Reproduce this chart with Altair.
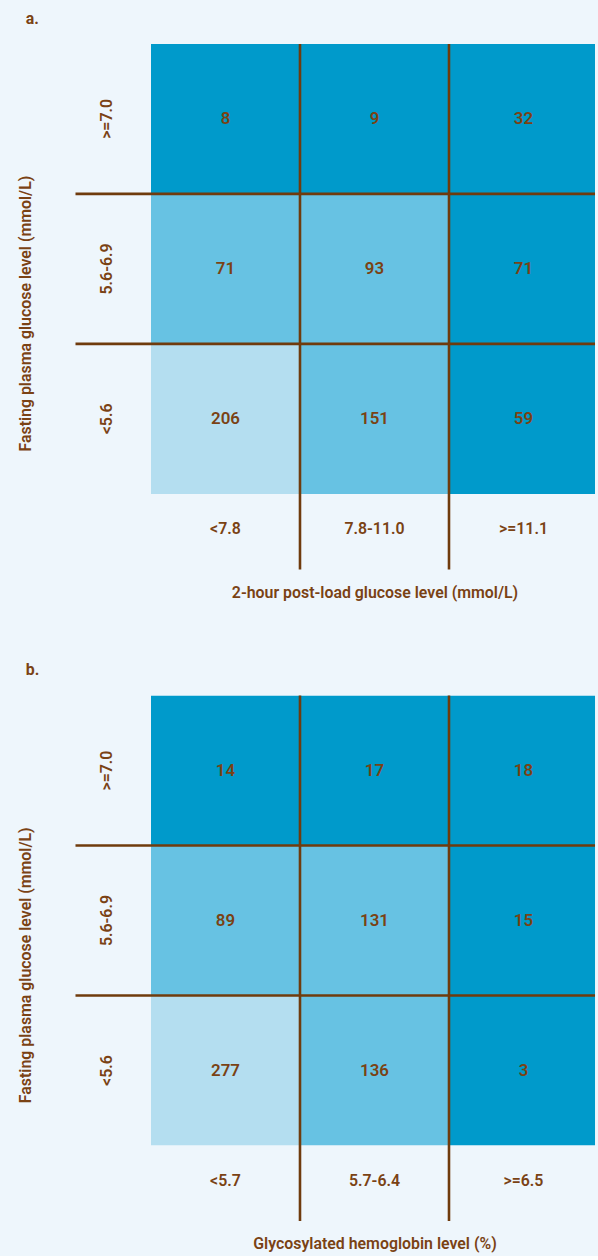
import altair as alt
import pandas as pd

# Fasting plasma glucose categories, listed top row first
fpg_levels = [">=7.0", "5.6-6.9", "<5.6"]

# Panel a: 2-hour post-load glucose (OGTT) categories and counts
ogtt_levels = ["<7.8", "7.8-11.0", ">=11.1"]
ogtt_counts = [
    [8, 9, 32],
    [71, 93, 71],
    [206, 151, 59],
]

# Panel b: HbA1c categories and counts
hba1c_levels = ["<5.7", "5.7-6.4", ">=6.5"]
hba1c_counts = [
    [14, 17, 18],
    [89, 131, 15],
    [277, 136, 3],
]

status_names = ["normal", "intermediate", "diabetes"]

BG = "#eef6fc"
TXT = "#7a4214"
LINE = "#6f3b0d"
FONT = "Roboto"
WEIGHT = 600
CELL_COLORS = ["#b4def0", "#67c2e3", "#009acb"]

W = 447          # plot width used for layout
W_SCALE = 450    # three 150 px columns; the last one runs off the page edge
H = 453


def cell_table(cols, counts):
    rows = []
    for i, fpg in enumerate(fpg_levels):
        fpg_rank = len(fpg_levels) - 1 - i
        for j, test in enumerate(cols):
            rows.append({
                "fpg": fpg,
                "test": test,
                "count": counts[i][j],
                "status": status_names[max(fpg_rank, j)],
            })
    return pd.DataFrame(rows)


def panel(tag, cols, counts, x_title):
    cells = cell_table(cols, counts)

    xs = alt.Scale(domain=cols, range=[0, W_SCALE], paddingInner=0, paddingOuter=0)
    ys = alt.Scale(domain=fpg_levels, paddingInner=0, paddingOuter=0)

    x_axis = alt.Axis(
        title=x_title, orient="bottom", domain=False, ticks=False, grid=False,
        labelAngle=0, labelPadding=35, labelBaseline="middle",
        titleY=99, titleBaseline="middle",
    )
    y_axis = alt.Axis(
        title="Fasting plasma glucose level (mmol/L)", domain=False, ticks=False, grid=False,
        labelAngle=270, labelAlign="center", labelBaseline="middle", labelPadding=45,
        titleAngle=270, titleAlign="center", titleBaseline="middle",
        titleX=-126, titleY=271,
    )

    def xe(**kw):
        return alt.X("test:N", scale=xs, axis=x_axis, sort=cols, **kw)

    def ye(**kw):
        return alt.Y("fpg:N", scale=ys, axis=y_axis, sort=fpg_levels, **kw)

    rects = alt.Chart(cells).mark_rect(clip=True).encode(
        x=xe(),
        y=ye(),
        color=alt.Color(
            "status:N",
            scale=alt.Scale(domain=status_names, range=CELL_COLORS),
            legend=None,
        ),
    )

    # dividers between columns, running down past the tick labels
    vlines = alt.Chart(pd.DataFrame({"test": cols[1:]})).mark_rule(
        color=LINE, strokeWidth=2.6
    ).encode(
        x=xe(bandPosition=0),
        y=alt.value(0),
        y2=alt.value(H + 76),
    )

    # dividers between rows, running left past the row labels
    hlines = alt.Chart(pd.DataFrame({"fpg": fpg_levels[1:]})).mark_rule(
        color=LINE, strokeWidth=2.6
    ).encode(
        y=ye(bandPosition=0),
        x=alt.value(-76),
        x2=alt.value(W),
    )

    labels = alt.Chart(cells).mark_text(
        font=FONT, fontSize=17, fontWeight=WEIGHT, color=TXT
    ).encode(
        x=xe(),
        y=ye(),
        text="count:Q",
    )

    return alt.layer(rects, vlines, hlines, labels).properties(
        width=W,
        height=H,
        title=alt.TitleParams(
            text=tag, anchor="start", frame="group", dx=-126, offset=8,
            baseline="middle", font=FONT, fontSize=16, fontWeight="bold", color=TXT,
        ),
    )


panel_a = panel("a.", ogtt_levels, ogtt_counts, "2-hour post-load glucose level (mmol/L)")
panel_b = panel("b.", hba1c_levels, hba1c_counts, "Glycosylated hemoglobin level (%)")

chart = alt.vconcat(panel_a, panel_b, spacing=203, bounds="flush").properties(
    padding={"left": 18, "top": 6, "right": 0, "bottom": 0},
).configure(
    background=BG,
).configure_view(
    stroke=None,
).configure_axis(
    labelFont=FONT, labelFontSize=16, labelFontWeight=WEIGHT, labelColor=TXT,
    titleFont=FONT, titleFontSize=16, titleFontWeight=WEIGHT, titleColor=TXT,
)

chart.save("out.html", embed_options={"renderer": "svg", "actions": False})
